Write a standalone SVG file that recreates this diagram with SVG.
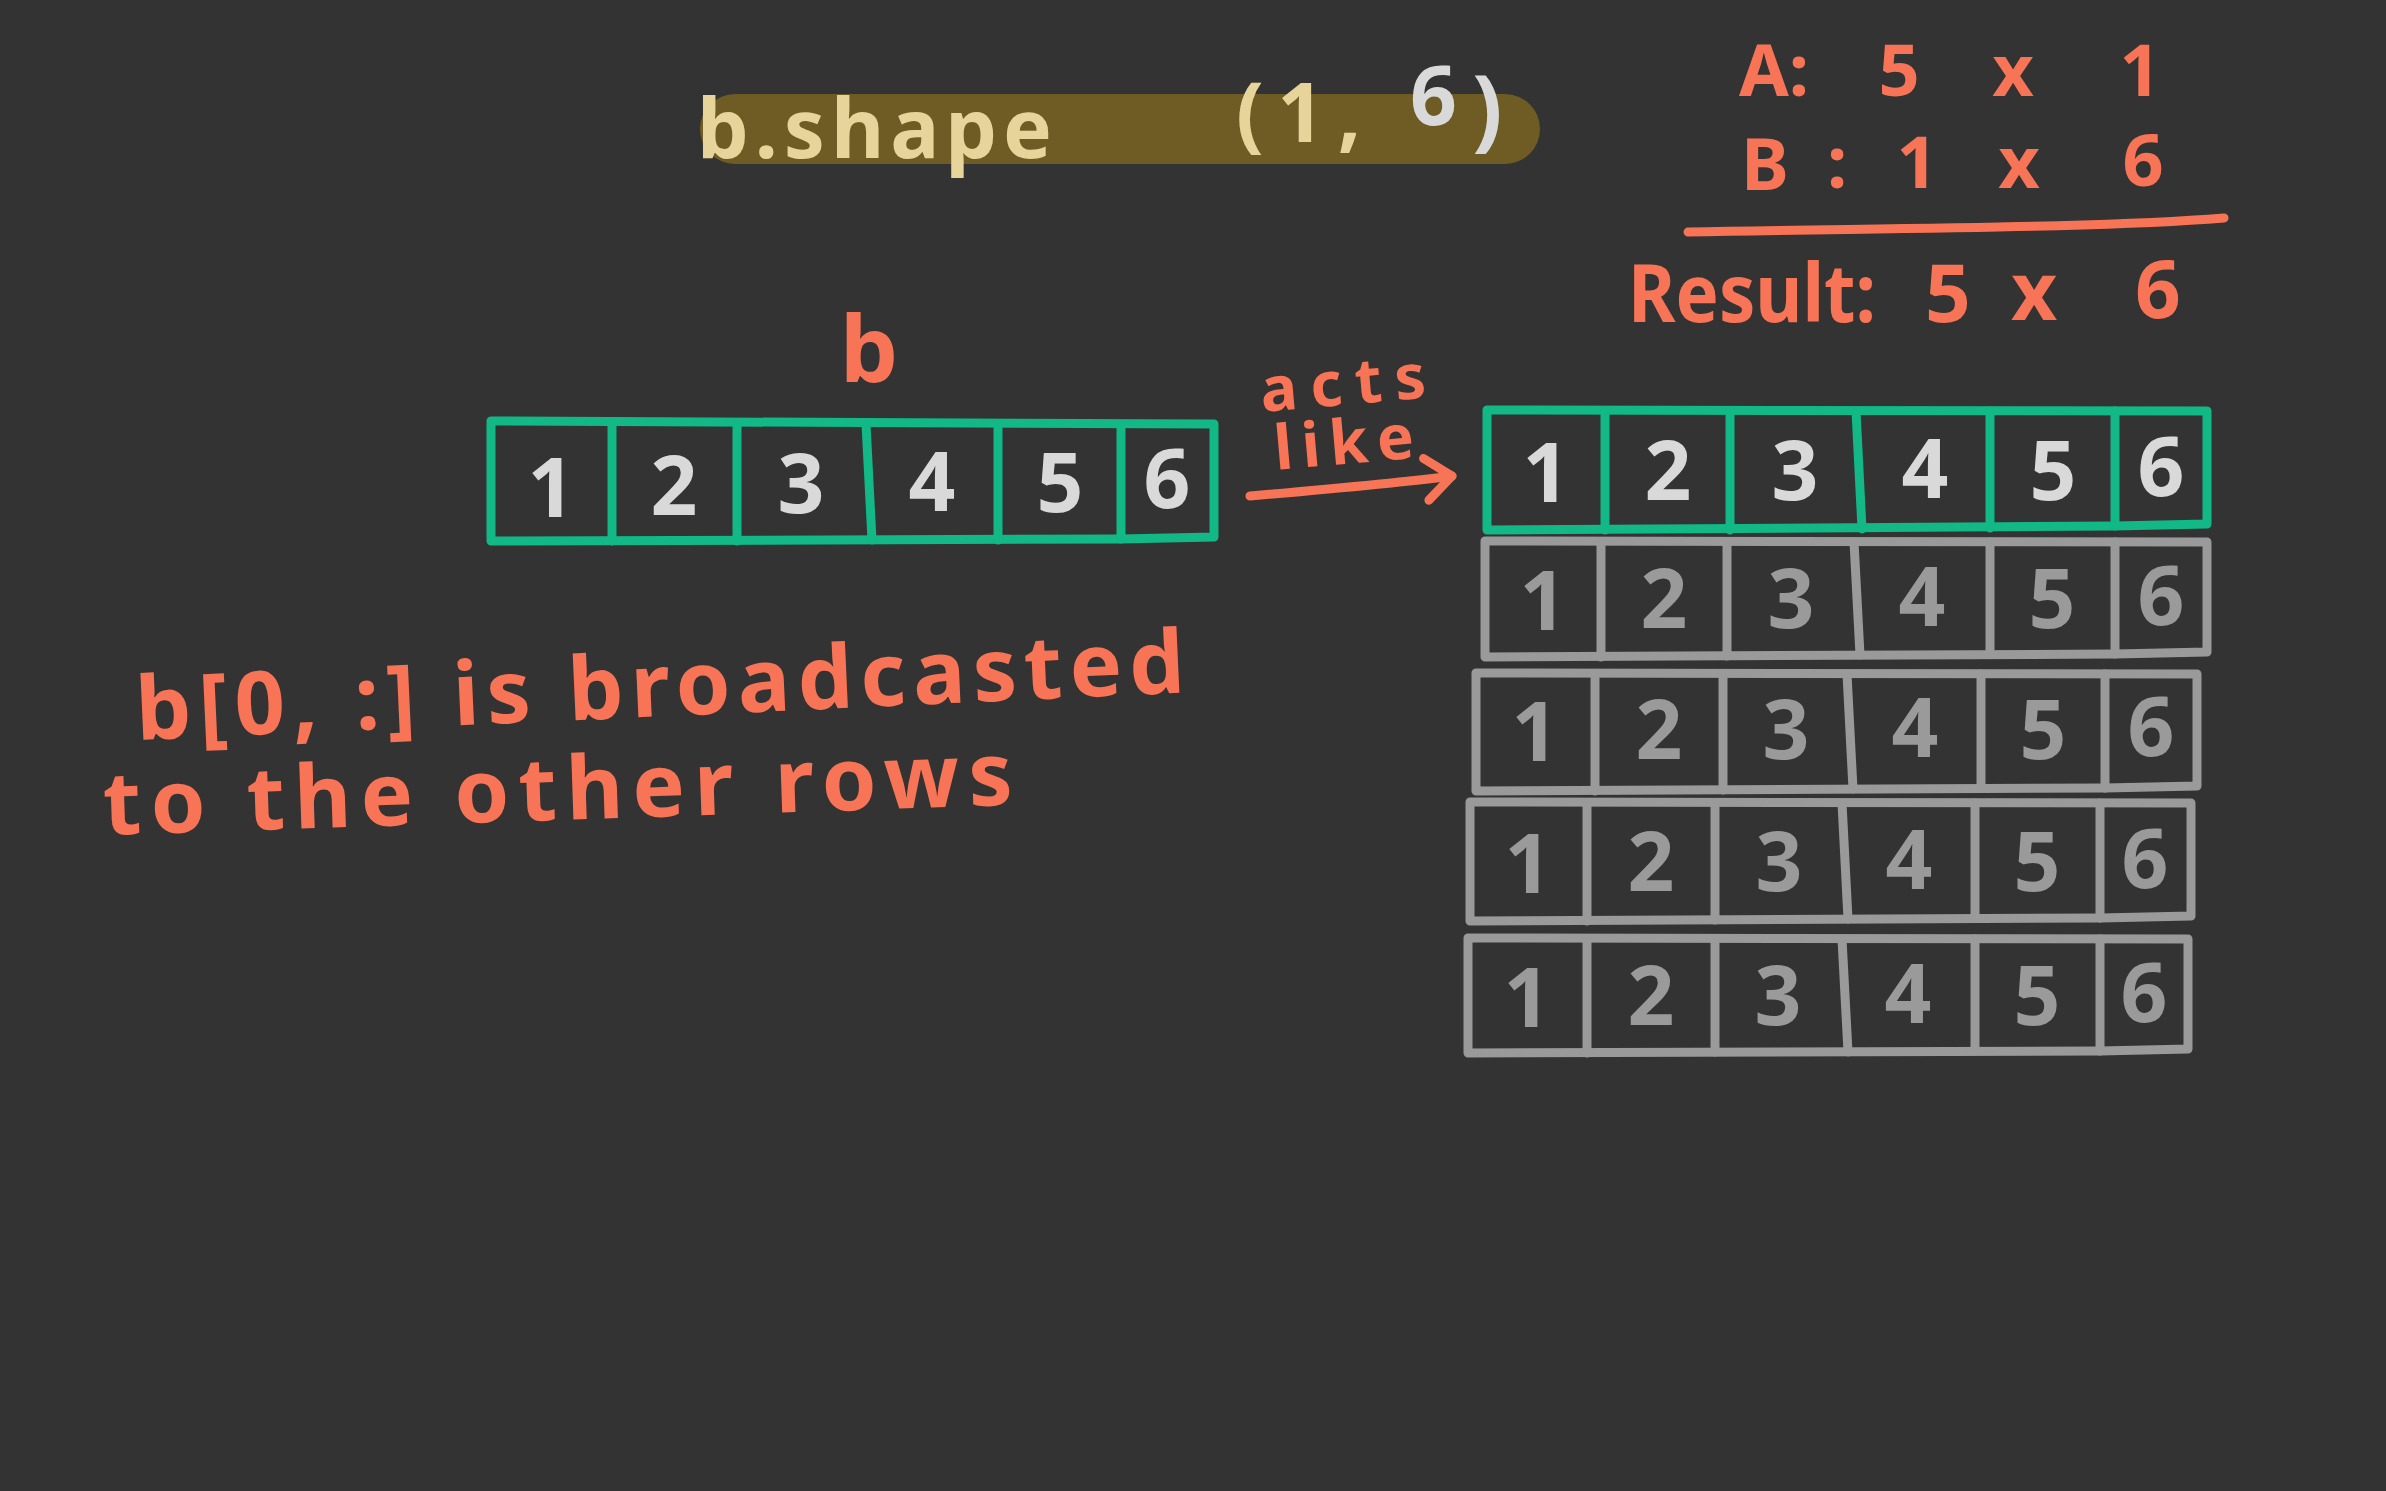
<svg xmlns="http://www.w3.org/2000/svg" width="2386" height="1491" viewBox="0 0 2386 1491">
<style>
.bg{fill:#333333}
.o{fill:#f87456;font-family:"Noto Sans","DejaVu Sans",sans-serif;font-weight:bold}
.cell{fill:none;stroke-width:9;stroke-linejoin:round;stroke-linecap:round}
.g{stroke:#12b886}
.gr{stroke:#9a9a9a}
.dl{fill:#d9d9d9;font-family:"Noto Sans","DejaVu Sans",sans-serif;font-size:82px;font-weight:bold;text-anchor:middle}
.dg{fill:#9a9a9a;font-family:"Noto Sans","DejaVu Sans",sans-serif;font-size:82px;font-weight:bold;text-anchor:middle}
</style>
<defs>
<marker id="ah" markerWidth="50" markerHeight="56" refX="36" refY="28" orient="auto" markerUnits="userSpaceOnUse">
<path d="M10,7 L36,28 L10,49" fill="none" stroke="#f87456" stroke-width="9" stroke-linecap="round" stroke-linejoin="round"/>
</marker>
</defs>
<rect class="bg" x="0" y="0" width="2386" height="1491"/>

<g id="title">
<rect x="700" y="94" width="840" height="70" rx="35" fill="#6e5c24"/>
<text x="697" y="158" font-family="'Noto Sans',sans-serif" font-weight="bold" font-size="82" fill="#e6d49a" textLength="355" lengthAdjust="spacing">b.shape</text>
<text x="1236" y="142" font-family="'Noto Sans',sans-serif" font-weight="bold" font-size="82" fill="#e6d49a" textLength="125" lengthAdjust="spacing">(1,</text>
<text x="1410" y="125" font-family="'Noto Sans',sans-serif" font-weight="bold" font-size="82" fill="#d9d9d9">6</text>
<text x="1472" y="140" font-family="'Noto Sans',sans-serif" font-weight="bold" font-size="90" fill="#d9d9d9">)</text>
</g>

<g id="shapes" class="o" font-size="72">
<text x="1739" y="96">A:</text>
<text x="1899" y="96" text-anchor="middle">5</text>
<text x="2013" y="96" text-anchor="middle">x</text>
<text x="2140" y="96" text-anchor="middle">1</text>
<text x="1765" y="190" text-anchor="middle">B</text>
<text x="1837" y="188" text-anchor="middle">:</text>
<text x="1917" y="188" text-anchor="middle">1</text>
<text x="2019" y="188" text-anchor="middle">x</text>
<text x="2143" y="186" text-anchor="middle">6</text>
<path d="M1688,232 C1900,228 2100,228 2224,218" fill="none" stroke="#f87456" stroke-width="9" stroke-linecap="round"/>
<text x="1628" y="322" font-size="80" textLength="248" lengthAdjust="spacingAndGlyphs">Result:</text>
<text x="1948" y="322" font-size="80" text-anchor="middle">5</text>
<text x="2034" y="320" font-size="80" text-anchor="middle">x</text>
<text x="2158" y="318" font-size="80" text-anchor="middle">6</text>
</g>

<g id="b-label" class="o" font-size="92">
<text x="869" y="382" text-anchor="middle">b</text>
</g>

<g id="b-row">
<path class="cell g" d="M491,421 L1214,424 L1214,537 L1121,539 L491,541 Z"/>
<path class="cell g" d="M612,423 L612,541 M737,423 L737,541 M866,424 L872,540 M998,424 L998,540 M1121,425 L1121,539"/>
<text class="dl" x="551" y="517">1</text>
<text class="dl" x="674" y="515">2</text>
<text class="dl" x="801" y="513">3</text>
<text class="dl" x="932" y="511">4</text>
<text class="dl" x="1060" y="512">5</text>
<text class="dl" x="1167" y="508">6</text>
</g>

<g id="acts-like" class="o" font-size="62">
<text x="1262" y="412" transform="rotate(-5 1262 412)" textLength="166" lengthAdjust="spacing">acts</text>
<text x="1276" y="470" transform="rotate(-5 1276 470)" textLength="140" lengthAdjust="spacing">like</text>
</g>

<g id="connectors">
<path d="M1250,496 C1320,490 1390,484 1452,476" fill="none" stroke="#f87456" stroke-width="9" stroke-linecap="round" marker-end="url(#ah)"/>
</g>

<g id="row-1">
<path class="cell g" d="M1487,410 L2207,411 L2207,524 L2115,526 L1487,530 Z"/>
<path class="cell g" d="M1605,411 L1605,530 M1730,411 L1730,530 M1856,411 L1862,529 M1990,411 L1990,528 M2115,411 L2115,526"/>
<text class="dl" x="1546" y="502">1</text>
<text class="dl" x="1668" y="500">2</text>
<text class="dl" x="1795" y="500">3</text>
<text class="dl" x="1925" y="498">4</text>
<text class="dl" x="2053" y="500">5</text>
<text class="dl" x="2161" y="496">6</text>
</g>

<g id="row-2">
<path class="cell gr" d="M1485,541 L2207,542 L2207,652 L2115,654 L1485,657 Z"/>
<path class="cell gr" d="M1601,542 L1601,657 M1727,542 L1727,656 M1854,542 L1860,655 M1990,542 L1990,654 M2115,542 L2115,654"/>
<text class="dg" x="1543" y="630">1</text>
<text class="dg" x="1664" y="628">2</text>
<text class="dg" x="1791" y="628">3</text>
<text class="dg" x="1922" y="626">4</text>
<text class="dg" x="2052" y="628">5</text>
<text class="dg" x="2161" y="625">6</text>
</g>

<g id="row-3">
<path class="cell gr" d="M1476,673 L2197,674 L2197,786 L2105,788 L1476,791 Z"/>
<path class="cell gr" d="M1595,674 L1595,791 M1723,674 L1723,790 M1847,674 L1853,789 M1981,674 L1981,788 M2105,674 L2105,788"/>
<text class="dg" x="1535" y="761">1</text>
<text class="dg" x="1659" y="759">2</text>
<text class="dg" x="1786" y="759">3</text>
<text class="dg" x="1915" y="757">4</text>
<text class="dg" x="2043" y="759">5</text>
<text class="dg" x="2151" y="756">6</text>
</g>

<g id="row-4">
<path class="cell gr" d="M1470,802 L2191,803 L2191,916 L2100,918 L1470,921 Z"/>
<path class="cell gr" d="M1587,803 L1587,921 M1715,803 L1715,920 M1842,803 L1848,919 M1975,803 L1975,918 M2100,803 L2100,918"/>
<text class="dg" x="1528" y="893">1</text>
<text class="dg" x="1651" y="891">2</text>
<text class="dg" x="1779" y="891">3</text>
<text class="dg" x="1909" y="889">4</text>
<text class="dg" x="2037" y="891">5</text>
<text class="dg" x="2145" y="888">6</text>
</g>

<g id="row-5">
<path class="cell gr" d="M1468,938 L2188,939 L2188,1049 L2100,1051 L1468,1053 Z"/>
<path class="cell gr" d="M1587,939 L1587,1053 M1715,939 L1715,1052 M1842,939 L1848,1052 M1975,939 L1975,1051 M2100,939 L2100,1051"/>
<text class="dg" x="1527" y="1027">1</text>
<text class="dg" x="1651" y="1025">2</text>
<text class="dg" x="1778" y="1025">3</text>
<text class="dg" x="1908" y="1023">4</text>
<text class="dg" x="2037" y="1025">5</text>
<text class="dg" x="2144" y="1022">6</text>
</g>

<g id="note" class="o" font-size="88">
<text x="137" y="740" transform="rotate(-2.6 137 740)" textLength="1050" lengthAdjust="spacing">b[0, :] is broadcasted</text>
<text x="104" y="835" transform="rotate(-1.9 104 835)" textLength="910" lengthAdjust="spacing">to the other rows</text>
</g>
</svg>
